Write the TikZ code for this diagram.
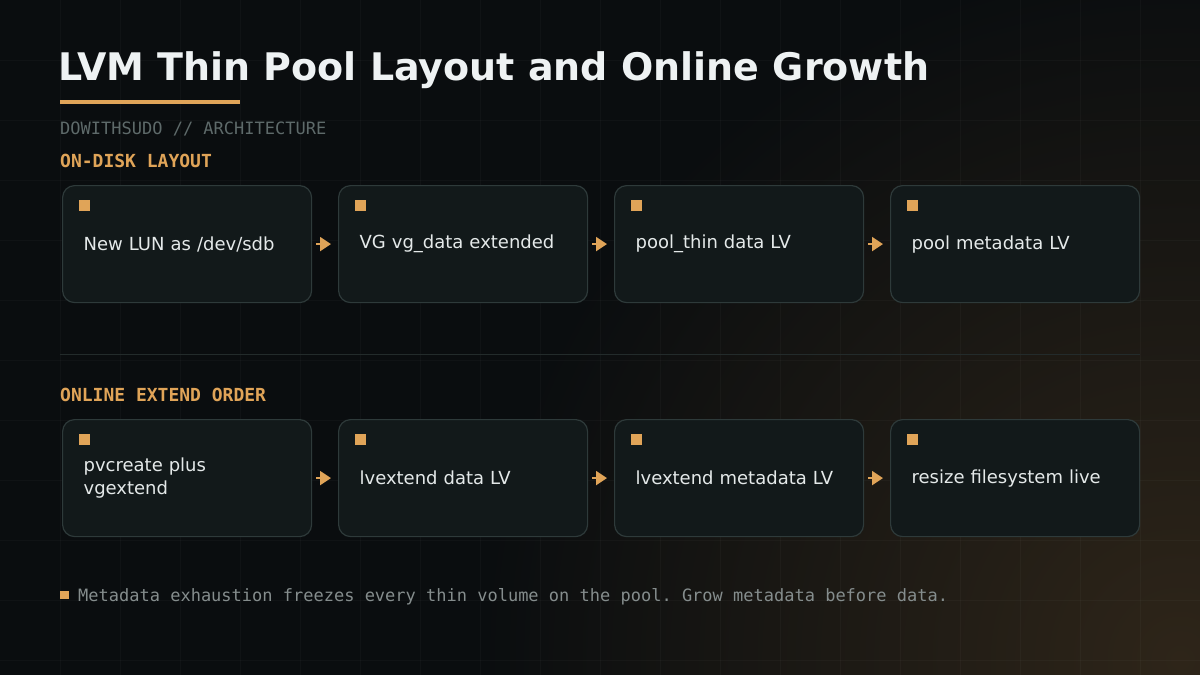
\documentclass[tikz,border=0pt]{standalone}
\usepackage{fontspec}
\setmainfont{DejaVu Sans}
\setmonofont{DejaVu Sans Mono}
\usetikzlibrary{positioning,calc,arrows.meta}

\definecolor{bgdark}{HTML}{0A0D0F}
\definecolor{glow}{HTML}{2E2519}
\definecolor{cardfill}{HTML}{12191A}
\definecolor{cardline}{HTML}{2E3A3A}
\definecolor{accent}{HTML}{E0A458}
\definecolor{titlecol}{HTML}{EEF2F3}
\definecolor{cardtext}{HTML}{E4E9E9}
\definecolor{muted}{HTML}{5E6A6A}
\definecolor{footcol}{HTML}{858D8D}
\definecolor{sepcol}{HTML}{232B2B}

\tikzset{
    card/.style={draw=cardline, fill=cardfill, line width=1.2pt, rounded corners=12pt,
        minimum width=249pt, minimum height=117pt, text width=207pt, align=left,
        inner xsep=21pt, anchor=north west, text=cardtext,
        font=\fontsize{18pt}{23pt}\selectfont},
    flow/.style={draw=accent, line width=2pt, -{Triangle[length=11pt,width=14pt]}},
    heading/.style={anchor=base west, inner sep=0pt, text=accent,
        font=\ttfamily\bfseries\fontsize{18pt}{22pt}\selectfont},
    gridline/.style={draw=white, draw opacity=0.028, line width=1pt}
}

\begin{document}
\begin{tikzpicture}[x=1pt, y=-1pt]
    % background
    \useasboundingbox (0,0) rectangle (1200,675);
    \fill[bgdark] (0,0) rectangle (1200,675);
    \begin{scope}
        \clip (0,0) rectangle (1200,675);
        \shade[inner color=glow, outer color=bgdark] (1180,660) circle (700pt);
    \end{scope}
    \foreach \x in {60,120,...,1140}
        \draw[gridline] (\x,0) -- (\x,675);
    \foreach \y in {60,120,...,660}
        \draw[gridline] (0,\y) -- (1200,\y);

    % title block
    \node[anchor=base west, inner sep=0pt, text=titlecol,
        font=\bfseries\fontsize{38pt}{44pt}\selectfont] (title) at (58,80)
        {LVM Thin Pool Layout and Online Growth};
    \fill[accent] (60,100) rectangle (240,104);
    \node[anchor=base west, inner sep=0pt, text=muted,
        font=\ttfamily\fontsize{17pt}{20pt}\selectfont] (sub) at (60,134)
        {DOWITHSUDO // ARCHITECTURE};

    % on-disk layout
    \node[heading] (h1) at (60,167) {ON-DISK LAYOUT};
    \foreach \t [count=\i] in {New LUN as /dev/sdb, VG vg\_data extended,
            pool\_thin data LV, pool metadata LV}
        \node[card] (a\i) at ({62+(\i-1)*276},185) {\t};

    \draw[sepcol, line width=1pt] (60,354) -- (1140,354);

    % online extend order
    \node[heading] (h2) at (60,401) {ONLINE EXTEND ORDER};
    \foreach \t [count=\i] in {{pvcreate plus\\vgextend}, lvextend data LV,
            lvextend metadata LV, resize filesystem live}
        \node[card] (b\i) at ({62+(\i-1)*276},419) {\t};

    % markers and arrows
    \foreach \r in {a,b} {
        \foreach \i in {1,...,4}
            \fill[accent] ([xshift=17pt,yshift=-15pt]\r\i.north west) rectangle ++(11,11);
        \foreach \i/\j in {1/2,2/3,3/4}
            \draw[flow] ([xshift=4pt]\r\i.east) -- ([xshift=-7pt]\r\j.west);
    }

    % footer note
    \fill[accent] (60,591) rectangle (69,599);
    \node[anchor=base west, inner sep=0pt, text=footcol,
        font=\ttfamily\fontsize{17pt}{20pt}\selectfont] (note) at (78,601)
        {Metadata exhaustion freezes every thin volume on the pool. Grow metadata before data.};
\end{tikzpicture}
\end{document}
